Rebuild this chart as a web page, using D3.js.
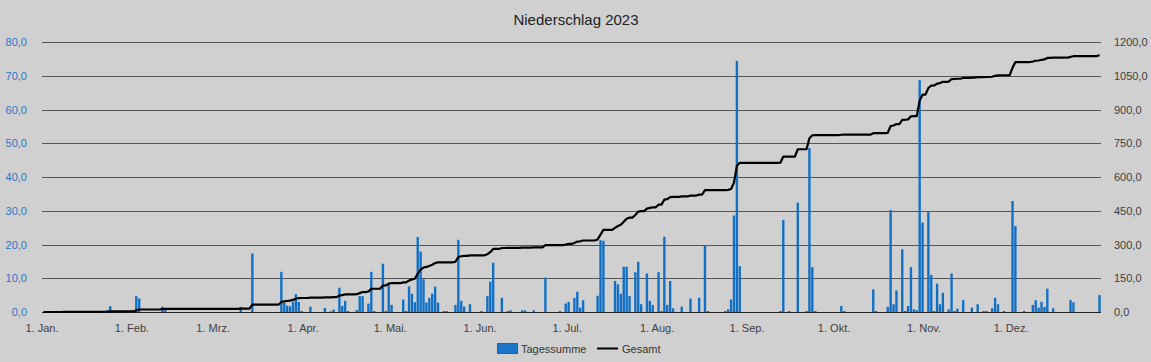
<!DOCTYPE html>
<html><head><meta charset="utf-8">
<script src="https://cdn.jsdelivr.net/npm/d3@7"></script>
<style>html,body{margin:0;padding:0;background:#d0d0d0;}svg{display:block;}</style>
</head><body>
<svg id="c" width="1151" height="362"></svg>
<script>
// Daily precipitation (mm), one array per month
const jan = [0,0,0,0,0,0,0,0.2,0,0, 0,0,0,0,0,0,0,0,0,0, 0,0,0.6,1.7,0,0,0,0,0,0, 0];
const feb = [0,4.7,4.0,0,0,0,0,0,0,0, 1.6,0.9,0,0,0,0,0,0,0,0, 0,0,0,0,0,0,0,0];
const mar = [0,0,0,0,0,0,0,0,0,1.5, 0,0,0,17.3,0,0,0,0,0,0, 0,0,0,11.9,2.7,1.9,1.7,3.0,5.3,3.0, 0.3];
const apr = [0,0,1.6,0,0,0,0,1.2,0,0.2, 0.7,0,7.2,1.8,3.3,0.3,0,0,0.6,4.7, 4.7,0,2.5,11.9,0.3,0,0,14.3,0.3,8.0];
const may = [2.1,0,0,0,3.7,0.3,7.6,5.4,2.9,22.2, 17.9,9.7,2.8,4.2,5.4,7.5,2.8,0,0.3,0.3, 0,0,2.1,21.4,3.3,1.6,0,2.3,0,0, 0];
const jun = [0.3,0,4.7,9.0,14.6,0,0,4.2,0,0.3, 0.5,0,0,0,0.5,0.5,0,0,0.5,0, 0,0,10.2,0,0,0,0,0.3,0,2.5];
const jul = [3.0,0,4.2,6.0,1.3,3.5,0,0,0,0, 4.8,21.3,21.1,0,0,0,9.2,8.2,5.4,13.4, 13.4,4.7,0,11.8,14.9,2.3,0,11.4,3.3,2.1, 0];
const aug = [11.8,0.3,22.3,2.1,9.2,1.1,0,0,1.6,0, 0,4.0,0,0,4.2,0,19.7,0.3,0,0, 0,0,0,0.3,0.8,3.7,28.6,74.4,13.6,0, 0];
const sep = [0,0,0,0,0,0,0,0,0,0, 0,0.3,27.3,0,0.3,0,0,32.4,0,0, 0.3,48.6,13.3,0.3,0,0,0,0,0,0];
const oct = [0,0,1.8,0.3,0,0,0,0,0,0, 0,0,0,6.7,0.3,0,0,0,1.5,30.2, 2.3,6.4,0,18.6,0.3,1.8,13.3,0.8,0.5,68.7, 26.5];
const nov = [0,29.6,11.0,0.3,8.4,2.3,5.7,0,0.8,11.4, 0.3,1.0,0,3.5,0,0,1.3,0,2.3,0, 0.3,0.3,0,1.1,4.2,2.3,0,0.3,0,0];
const dec = [32.9,25.5,0,0,0.3,0,0,2.1,3.5,1.3, 3.0,1.5,6.9,0,1.1,0,0,0,0,0, 3.5,2.9,0,0,0,0,0,0,0,0, 5.0];

const monthLabels = ["1. Jan.","1. Feb.","1. Mrz.","1. Apr.","1. Mai.","1. Jun.","1. Jul.","1. Aug.","1. Sep.","1. Okt.","1. Nov.","1. Dez."];
const leftTicks = [0,10,20,30,40,50,60,70,80];
const rightTicks = [0,150,300,450,600,750,900,1050,1200];
const title = "Niederschlag 2023";
const seriesNames = ["Tagessumme","Gesamt"];

const months = [jan,feb,mar,apr,may,jun,jul,aug,sep,oct,nov,dec];
const daily = months.flat();
const monthStart = [];
{ let s = 0; months.forEach(m => { monthStart.push(s); s += m.length; }); }
const cumul = [];
daily.reduce((a, v, i) => (cumul[i] = a + v, a + v), 0);

const W = 1151, H = 362;
const L = 42, R = 1101, T = 42, B = 312;
const svg = d3.select("#c");
const font = "'Liberation Sans', Arial, sans-serif";
const fmt = v => d3.format(".1f")(v).replace(".", ",");

svg.append("rect").attr("width", W).attr("height", H).attr("fill", "#d0d0d0");

const x = d3.scaleBand().domain(d3.range(daily.length)).range([L, R]).paddingInner(0.18).paddingOuter(0.09);
const step = x.step();
const y = d3.scaleLinear().domain([0, 80]).range([B, T]);
const y2 = d3.scaleLinear().domain([0, 1200]).range([B, T]);

// gridlines
svg.append("g").selectAll("line").data(leftTicks).join("line")
  .attr("x1", L).attr("x2", R)
  .attr("y1", d => Math.round(y(d)) + 0.5).attr("y2", d => Math.round(y(d)) + 0.5)
  .attr("stroke", d => d === 0 ? "#222" : "#555").attr("stroke-width", 1);

// left axis
const ya = svg.append("g").attr("transform", `translate(${L},0)`)
  .call(d3.axisLeft(y).tickValues(leftTicks).tickFormat(fmt).tickSize(0).tickPadding(15));
ya.select(".domain").remove();
ya.selectAll("text").attr("fill", "#2c74c2").attr("font-family", font).attr("font-size", 11);

// right axis
const yb = svg.append("g").attr("transform", `translate(${R},0)`)
  .call(d3.axisRight(y2).tickValues(rightTicks).tickFormat(fmt).tickSize(0).tickPadding(13));
yb.select(".domain").remove();
yb.selectAll("text").attr("fill", "#404040").attr("font-family", font).attr("font-size", 11);

// bars
svg.append("g").selectAll("rect").data(daily).join("rect")
  .attr("x", (d, i) => x(i)).attr("width", x.bandwidth())
  .attr("y", d => y(d)).attr("height", d => B - y(d))
  .attr("fill", "#1170c4");

// cumulative line
const line = d3.line().x((d, i) => x(i) + x.bandwidth() / 2).y(d => y2(d));
svg.append("path").datum(cumul).attr("d", line)
  .attr("fill", "none").attr("stroke", "#000").attr("stroke-width", 2.2).attr("stroke-linejoin", "round");

// x labels
const xs = d3.scaleLinear().domain([0, daily.length]).range([L, R]);
svg.append("g").selectAll("text").data(monthLabels).join("text")
  .attr("x", (d, i) => xs(monthStart[i])).attr("y", 332)
  .attr("text-anchor", "middle").attr("font-family", font).attr("font-size", 11).attr("fill", "#404040")
  .text(d => d);

// title
svg.append("text").attr("x", 576).attr("y", 25).attr("text-anchor", "middle")
  .attr("font-family", font).attr("font-size", 15).attr("fill", "#222").text(title);

// legend
const lg = svg.append("g");
lg.append("rect").attr("x", 497.5).attr("y", 343.5).attr("width", 20).attr("height", 10)
  .attr("fill", "#1a74c8").attr("stroke", "#2a5f9e");
lg.append("text").attr("x", 521).attr("y", 352.5).attr("font-family", font).attr("font-size", 11).attr("fill", "#333").text(seriesNames[0]);
lg.append("line").attr("x1", 597).attr("x2", 618).attr("y1", 348.5).attr("y2", 348.5).attr("stroke", "#000").attr("stroke-width", 2);
lg.append("text").attr("x", 622).attr("y", 352.5).attr("font-family", font).attr("font-size", 11).attr("fill", "#333").text(seriesNames[1]);
</script>
</body></html>
